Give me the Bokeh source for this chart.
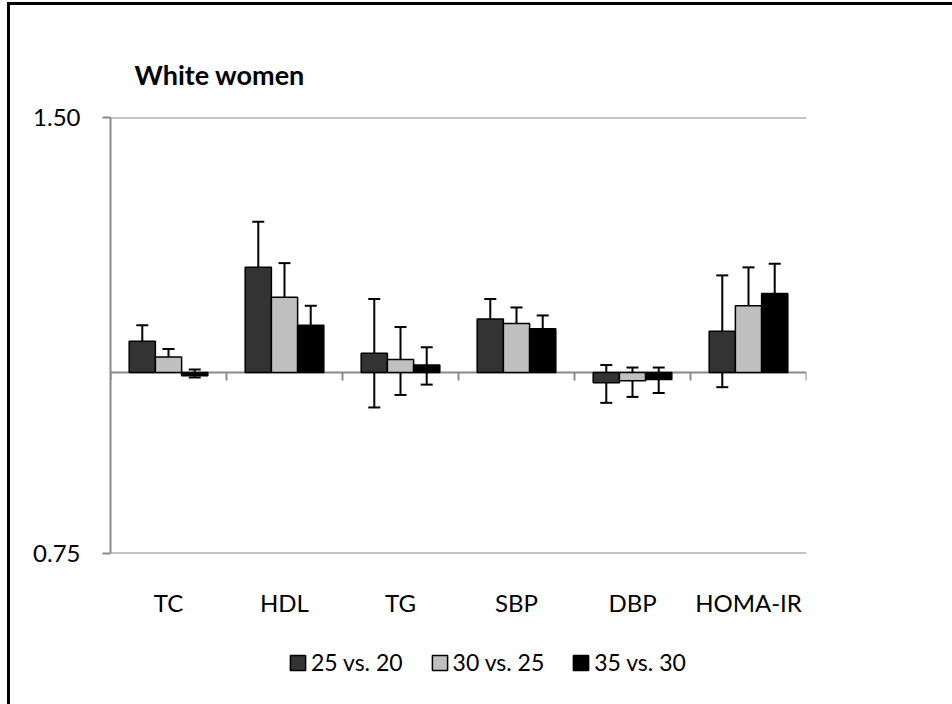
import math
from bokeh.plotting import figure
from bokeh.layouts import column
from bokeh.models import (Range1d, FixedTicker, PrintfTickFormatter, Span, Whisker,
                          ColumnDataSource, Legend, LegendItem, TeeHead)
from bokeh.embed import file_html
from bokeh.resources import INLINE

# ---------------- data ----------------
categories = ["TC", "HDL", "TG", "SBP", "DBP", "HOMA-IR"]
series = ["25 vs. 20", "30 vs. 25", "35 vs. 30"]

ratio_25_20 = [1.051, 1.182, 1.031, 1.089, 0.984, 1.068]
lower_25_20 = [1.021, 1.092, 0.946, 1.054, 0.953, 0.977]
upper_25_20 = [1.078, 1.271, 1.124, 1.124, 1.012, 1.167]

ratio_30_25 = [1.025, 1.127, 1.021, 1.081, 0.987, 1.112]
lower_30_25 = [1.008, 1.064, 0.965, 1.048, 0.962, 1.041]
upper_30_25 = [1.038, 1.190, 1.075, 1.109, 1.008, 1.182]

ratio_35_30 = [0.995, 1.078, 1.012, 1.072, 0.989, 1.134]
lower_35_30 = [0.992, 1.045, 0.981, 1.049, 0.968, 1.081]
upper_35_30 = [1.005, 1.112, 1.041, 1.095, 1.008, 1.189]

y_ticks = [0.75, 1.50]
reference = 1.0
title_text = "White women"

# ---------------- styles ----------------
colors = ["#333333", "#c0c0c0", "#000000"]
FONT = "Lato"
AXIS_GREY = "#8a8a8a"
BAR_W = 0.226

W = 942
H_MAIN, H_LEG = 635, 64
MB_TOP, MB_BOTTOM = 112, 87

p = figure(width=W, height=H_MAIN,
           x_range=Range1d(0, len(categories)),
           y_range=Range1d(y_ticks[0], y_ticks[-1]),
           y_axis_type="log",
           output_backend="svg", toolbar_location=None,
           min_border_left=100, min_border_right=146,
           min_border_top=MB_TOP, min_border_bottom=MB_BOTTOM)
p.outline_line_color = None
p.background_fill_color = "white"
p.border_fill_color = "white"

# title
p.title.text = title_text
p.title.text_font = FONT
p.title.text_font_size = "27px"
p.title.text_font_style = "bold"
p.title.text_color = "black"
p.title.align = "left"
p.title.offset = 24
p.title.standoff = 54

# y axis
p.yaxis.ticker = FixedTicker(ticks=y_ticks, minor_ticks=[])
p.yaxis.formatter = PrintfTickFormatter(format="%.2f")
p.yaxis.axis_line_color = AXIS_GREY
p.yaxis.axis_line_width = 2
p.yaxis.major_tick_line_color = AXIS_GREY
p.yaxis.major_tick_line_width = 2
p.yaxis.major_tick_out = 8
p.yaxis.major_tick_in = 0
p.yaxis.minor_tick_line_color = None
p.yaxis.major_label_standoff = 22
p.yaxis.major_label_text_font = FONT
p.yaxis.major_label_text_font_size = "24px"
p.yaxis.major_label_text_color = "black"
p.ygrid.grid_line_color = None
for t in y_ticks:
    p.add_layout(Span(location=t, dimension="width", line_color=AXIS_GREY,
                      line_width=2, level="underlay"))

# x axis: labels only
centers = [i + 0.5 for i in range(len(categories))]
p.xaxis.ticker = FixedTicker(ticks=centers, minor_ticks=[])
p.xaxis.major_label_overrides = {c: lab for c, lab in zip(centers, categories)}
p.xaxis.axis_line_color = None
p.xaxis.major_tick_line_color = None
p.xaxis.minor_tick_line_color = None
p.xaxis.major_tick_out = 0
p.xaxis.major_label_standoff = 34
p.xaxis.major_label_text_font = FONT
p.xaxis.major_label_text_font_size = "24px"
p.xaxis.major_label_text_color = "black"
p.xgrid.grid_line_color = None

# baseline at reference and category boundary ticks
p.add_layout(Span(location=reference, dimension="width", line_color=AXIS_GREY,
                  line_width=2, level="underlay"))
frame_h = H_MAIN - MB_TOP - MB_BOTTOM
tick_end = reference * 2 ** (-8.0 / frame_h)
bounds = list(range(len(categories) + 1))
p.segment(x0=bounds, y0=[reference] * len(bounds), x1=bounds, y1=[tick_end] * len(bounds),
          line_color=AXIS_GREY, line_width=2)

ratios = [ratio_25_20, ratio_30_25, ratio_35_30]
lowers = [lower_25_20, lower_30_25, lower_35_30]
uppers = [upper_25_20, upper_30_25, upper_35_30]

sources = []
for j, name in enumerate(series):
    xs = [c + (j - 1) * BAR_W for c in centers]
    src = ColumnDataSource(dict(x=xs, top=ratios[j], lower=lowers[j], upper=uppers[j]))
    sources.append(src)
    p.vbar(x="x", top="top", bottom=reference, width=BAR_W, source=src,
           fill_color=colors[j], line_color="black", line_width=1.5)
    wh = Whisker(source=src, base="x", lower="lower", upper="upper", dimension="height",
                 line_color="black", line_width=2,
                 upper_head=TeeHead(size=12, line_color="black", line_width=2),
                 lower_head=TeeHead(size=12, line_color="black", line_width=2))
    p.add_layout(wh)

# ---------------- legend strip (hidden bars only feed the legend swatches) ----------------
n = len(categories)
lg = figure(width=W, height=H_LEG, x_range=Range1d(-3 * n, -2 * n),
            y_range=Range1d(-3 * reference, -2 * reference),
            output_backend="svg", toolbar_location=None,
            x_axis_location=None, y_axis_location=None,
            min_border_left=0, min_border_right=0, min_border_top=0, min_border_bottom=0)
lg.outline_line_color = None
lg.xgrid.grid_line_color = None
lg.ygrid.grid_line_color = None
lg.background_fill_color = "white"
lg.border_fill_color = "white"
items = []
for j, name in enumerate(series):
    r = lg.vbar(x="x", top="top", bottom=reference, width=BAR_W, source=sources[j],
                fill_color=colors[j], line_color="black", line_width=1.5)
    r.visible = False
    items.append(LegendItem(label=name, renderers=[r]))
legend = Legend(items=items, orientation="horizontal", location=(178, 28),
                glyph_width=19, glyph_height=19, label_standoff=4, spacing=27,
                padding=0, margin=0, border_line_color=None, background_fill_alpha=0,
                inactive_fill_alpha=0,
                label_text_font=FONT, label_text_font_size="23px",
                label_text_color="black")
lg.add_layout(legend, "center")

layout = column(p, lg, spacing=0)
layout.styles = {"border-left": "3px solid black", "border-top": "3px solid black",
                 "margin-left": "7px", "margin-top": "2px"}

open("out.html", "w").write(file_html(layout, INLINE))
